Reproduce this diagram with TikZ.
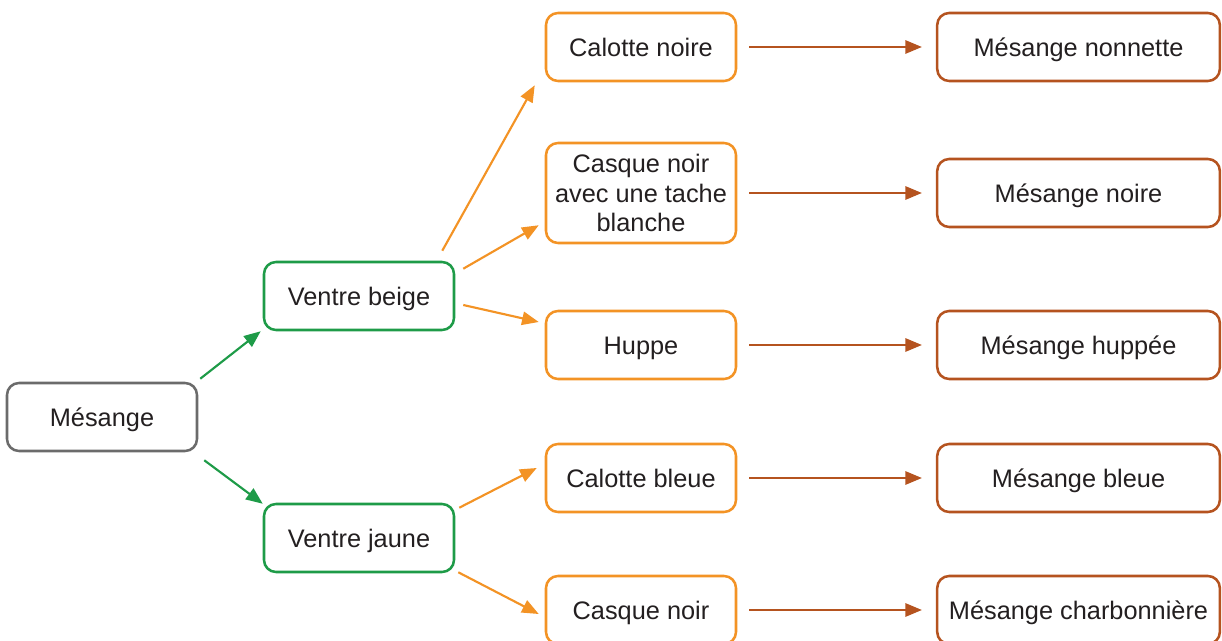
\documentclass[tikz,border=0pt]{standalone}
\usepackage{fontspec}
\setmainfont{Liberation Sans}
\usetikzlibrary{positioning,arrows.meta}
\definecolor{gris}{HTML}{6B6B6B}
\definecolor{vert}{HTML}{1E9B48}
\definecolor{orange}{HTML}{F39325}
\definecolor{brun}{HTML}{B5531F}
\definecolor{texte}{HTML}{231F20}

\begin{document}
\begin{tikzpicture}[x=0.75pt, y=-0.75pt, node distance = 149pt,
  nodes={rounded corners=9pt, line width=1.9pt, minimum width=142.5pt,
    minimum height=51pt, inner sep=2pt, text=texte,
    font=\fontsize{19}{22}\selectfont, align=center},
  ligne/.style = {text height=18pt, text depth=4.3pt},
  racine/.style = {ligne, draw=gris},
  ventre/.style = {ligne, draw=vert},
  critere/.style = {draw=orange},
  espece/.style = {ligne, draw=brun, minimum width=212pt},
  arrv/.style = {line width=1.6pt, draw=vert, -{Triangle[length=12.5pt,width=10pt]}},
  arro/.style = {line width=1.6pt, draw=orange, -{Triangle[length=12.5pt,width=10pt]}},
  arrb/.style = {line width=1.6pt, draw=brun, -{Triangle[length=12.5pt,width=10pt]}}
  ]
  \useasboundingbox (0,0) rectangle (1222,641);
  \node (mes) [racine] at (102,417) {Mésange};
  \node (vb) [ventre] at (359,296) {Ventre beige};
  \node (vj) [ventre] at (359,538) {Ventre jaune};

  \node (c1) [critere, ligne] at (641,47) {Calotte noire};
  \node (c2) [critere, minimum height=75pt] at (641,193) {Casque noir\\avec une tache\\blanche};
  \node (c3) [critere, ligne] at (641,345) {Huppe};
  \node (c4) [critere, ligne] at (641,478) {Calotte bleue};
  \node (c5) [critere, ligne] at (641,610) {Casque noir};

  \node (m1) [espece, right=of c1] {Mésange nonnette};
  \node (m2) [espece, right=of c2] {Mésange noire};
  \node (m3) [espece, right=of c3] {Mésange huppée};
  \node (m4) [espece, right=of c4] {Mésange bleue};
  \node (m5) [espece, right=of c5] {Mésange charbonnière};

  % ventre
  \draw[arrv] ([shift={(2,-3)}]mes.north east) -- ([shift={(-2,0)}]vb.south west);
  \draw[arrv] ([shift={(6,8)}]mes.south east) -- ([shift={(0,1)}]vj.north west);
  % criteres
  \draw[arro] ([shift={(-13,-10)}]vb.north east) -- ([shift={(-10,3)}]c1.south west);
  \draw[arro] ([shift={(8,8)}]vb.north east) -- ([shift={(-6,-19)}]c2.south west);
  \draw[arro] ([shift={(8,9)}]vb.east) -- ([shift={(-6,-23)}]c3.west);
  \draw[arro] ([shift={(4,5)}]vj.north east) -- ([shift={(-8,-10)}]c4.west);
  \draw[arro] ([shift={(3,-1)}]vj.south east) -- ([shift={(-6,4)}]c5.west);
  % especes
  \foreach \i in {1,...,5}
    \draw[arrb] ([xshift=9pt]c\i.east) -- ([xshift=-10.5pt]m\i.west);
\end{tikzpicture}
\end{document}
